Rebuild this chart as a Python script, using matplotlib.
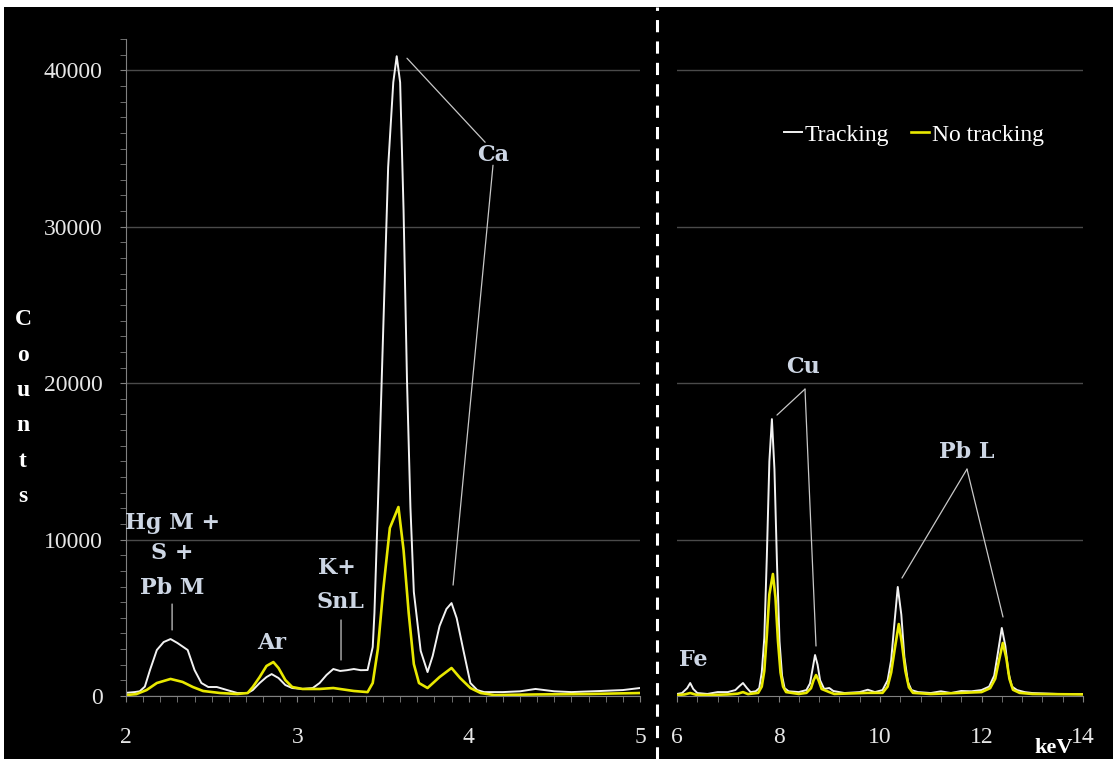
import matplotlib.pyplot as plt
from matplotlib.lines import Line2D
from matplotlib.patches import Rectangle
from matplotlib.ticker import MultipleLocator

plt.rcParams['font.family'] = ['Liberation Serif', 'DejaVu Serif']
plt.rcParams['xtick.major.pad'] = 18
plt.rcParams['xtick.minor.pad'] = 18

# Espectro 2-5 keV (com tracking)
e_esq_trk = [2.00, 2.05, 2.08, 2.11, 2.14, 2.18, 2.22, 2.26, 2.30, 2.36, 2.40, 2.44, 2.48,
             2.53, 2.59, 2.65, 2.71, 2.74, 2.78, 2.82, 2.85, 2.89, 2.93, 2.97, 3.03, 3.09,
             3.13, 3.17, 3.21, 3.25, 3.29, 3.33, 3.37, 3.41, 3.44, 3.45, 3.47, 3.50, 3.53,
             3.56, 3.58, 3.60, 3.62, 3.64, 3.66, 3.68, 3.72, 3.76, 3.79, 3.83, 3.87, 3.90,
             3.93, 3.97, 4.01, 4.05, 4.09, 4.20, 4.30, 4.39, 4.50, 4.60, 4.77, 4.90, 5.00]
c_esq_trk = [200, 250, 300, 600, 1660, 2940, 3450, 3640, 3390, 2940, 1660, 830, 575,
             575, 380, 190, 190, 380, 830, 1210, 1400, 1150, 700, 510, 450, 510,
             830, 1340, 1725, 1600, 1650, 1725, 1650, 1660, 3130, 5300, 12080, 22940, 33800,
             39230, 40900, 39230, 31050, 20190, 12080, 6650, 2880, 1530, 2560, 4470, 5560, 5940,
             4980, 2880, 830, 380, 250, 250, 300, 450, 300, 250, 320, 380, 510]

# Espectro 2-5 keV (sem tracking)
e_esq_sem = [2.00, 2.06, 2.12, 2.18, 2.26, 2.33, 2.39, 2.45, 2.55, 2.65, 2.71, 2.74, 2.78,
             2.82, 2.86, 2.89, 2.93, 2.97, 3.03, 3.13, 3.21, 3.33, 3.41, 3.44, 3.47, 3.50,
             3.54, 3.59, 3.62, 3.65, 3.68, 3.71, 3.76, 3.83, 3.90, 3.95, 4.01, 4.07, 4.15,
             4.40, 4.70, 5.00]
c_esq_sem = [60, 120, 380, 830, 1090, 900, 575, 320, 190, 130, 190, 575, 1210,
             1920, 2170, 1790, 1020, 575, 450, 450, 510, 320, 250, 830, 3000, 6650,
             10740, 12080, 9330, 5300, 2040, 830, 510, 1210, 1790, 1150, 510, 190, 60,
             100, 130, 190]

# Espectro 6-14 keV (com tracking)
e_dir_trk = [6.00, 6.10, 6.20, 6.26, 6.32, 6.40, 6.60, 6.80, 7.00, 7.15, 7.22, 7.30, 7.38,
             7.45, 7.55, 7.62, 7.67, 7.72, 7.77, 7.82, 7.87, 7.92, 7.97, 8.02, 8.07, 8.12,
             8.20, 8.40, 8.55, 8.62, 8.67, 8.72, 8.77, 8.82, 8.90, 9.00, 9.08, 9.30, 9.60,
             9.76, 9.90, 10.05, 10.15, 10.22, 10.28, 10.35, 10.42, 10.48, 10.55, 10.62, 10.75,
             11.00, 11.20, 11.40, 11.60, 11.80, 12.00, 12.15, 12.25, 12.32, 12.40, 12.47,
             12.53, 12.60, 12.70, 12.85, 13.00, 13.50, 14.00]
c_dir_trk = [130, 190, 500, 830, 450, 190, 130, 250, 250, 380, 600, 830, 500,
             250, 300, 500, 1500, 3700, 8900, 15000, 17700, 14500, 8500, 3500, 1300, 500,
             300, 250, 380, 800, 1700, 2620, 2000, 1000, 450, 510, 320, 190, 250,
             400, 250, 380, 1000, 2300, 4500, 6970, 5200, 2500, 900, 380, 250,
             190, 300, 190, 320, 300, 380, 600, 1300, 2700, 4350, 3200,
             1500, 600, 380, 250, 190, 130, 130]

# Espectro 6-14 keV (sem tracking)
e_dir_sem = [6.00, 6.15, 6.26, 6.38, 6.60, 7.00, 7.20, 7.30, 7.40, 7.60, 7.67, 7.72, 7.77,
             7.82, 7.89, 7.94, 7.99, 8.04, 8.09, 8.15, 8.40, 8.55, 8.64, 8.69, 8.74, 8.79,
             8.85, 9.00, 9.10, 9.76, 10.05, 10.15, 10.22, 10.29, 10.37, 10.43, 10.50, 10.57,
             10.65, 11.00, 11.60, 12.00, 12.17, 12.27, 12.34, 12.42, 12.49, 12.55, 12.62,
             12.75, 13.00, 14.00]
c_dir_sem = [60, 100, 190, 80, 60, 100, 150, 250, 120, 200, 600, 1600, 3900,
             6500, 7800, 6300, 3500, 1500, 600, 250, 130, 200, 500, 1000, 1340, 1000,
             450, 250, 130, 200, 200, 600, 1500, 3000, 4600, 3400, 1600, 550,
             200, 130, 200, 250, 500, 1100, 2200, 3390, 2400, 1100, 400,
             200, 130, 100]

cor_trk = '#f2f2f2'
cor_sem = '#e8e800'
cor_rot = '#cdd6e4'
cinza = '#808080'

fig = plt.figure(figsize=(11.13, 7.59), dpi=100, facecolor='white')
fig.add_artist(Rectangle((4 / 1113, 0), 1, 1 - 7 / 759, transform=fig.transFigure,
                         facecolor='black', edgecolor='none', zorder=-10))

ax1 = fig.add_axes([126 / 1113, 63 / 759, 514 / 1113, 657 / 759])
ax2 = fig.add_axes([677 / 1113, 63 / 759, 406 / 1113, 657 / 759])

# Painel esquerdo
ax1.plot(e_esq_trk, c_esq_trk, color=cor_trk, lw=1.4, label='Tracking')
ax1.plot(e_esq_sem, c_esq_sem, color=cor_sem, lw=1.9, label='No tracking')
ax1.set_xlim(2, 5)
ax1.set_xticks([2, 3, 4, 5])
ax1.xaxis.set_minor_locator(MultipleLocator(0.1))
ax1.set_yticks([0, 10000, 20000, 30000, 40000])
ax1.yaxis.set_minor_locator(MultipleLocator(1000))
ax1.spines['left'].set_color(cinza)
ax1.tick_params(axis='y', which='both', direction='out', length=4, color=cinza,
                labelsize=17, labelcolor='#e6e6e6', pad=13)

# Painel direito
l1, = ax2.plot(e_dir_trk, c_dir_trk, color=cor_trk, lw=1.4)
l2, = ax2.plot(e_dir_sem, c_dir_sem, color=cor_sem, lw=1.9)
ax2.set_xlim(6, 14)
ax2.set_xticks([6, 8, 10, 12, 14])
ax2.xaxis.set_minor_locator(MultipleLocator(0.4))
ax2.set_yticks([10000, 20000, 30000, 40000])
ax2.spines['left'].set_visible(False)
ax2.tick_params(axis='y', which='both', length=0, labelleft=False)

for ax in (ax1, ax2):
    ax.set_facecolor('black')
    ax.set_ylim(0, 42000)
    ax.grid(axis='y', color='#4a4a4a', lw=1)
    ax.set_axisbelow(True)
    for lado in ('top', 'right'):
        ax.spines[lado].set_visible(False)
    ax.spines['bottom'].set_color(cinza)
    ax.tick_params(axis='x', which='both', direction='out', length=4, color=cinza,
                   labelsize=17, labelcolor='#e6e6e6')

leg = ax2.legend([l1, l2], ['Tracking', 'No tracking'], loc='center',
                 bbox_to_anchor=(0.583, 0.854), ncol=2, frameon=False,
                 handlelength=0.8, handletextpad=0.1, columnspacing=0.9,
                 fontsize=17, labelcolor='white')

# Rótulos dos picos
rot = dict(color=cor_rot, fontsize=16, fontweight='bold', family='DejaVu Serif',
           ha='center', va='center')
linha = dict(arrowstyle='-', color='#c8c8c8', lw=0.9, shrinkA=0, shrinkB=0)

ax1.text(2.269, 11050, 'Hg M +', **rot)
ax1.text(2.269, 9140, 'S +', **rot)
ax1.text(2.269, 6900, 'Pb M', **rot)
ax1.annotate('', xy=(2.269, 4220), xytext=(2.269, 5880), arrowprops=linha)
ax1.text(2.852, 3390, 'Ar', **rot)
ax1.text(3.232, 8180, 'K+', **rot)
ax1.text(3.249, 6000, 'SnL', **rot)
ax1.annotate('', xy=(3.255, 2300), xytext=(3.255, 4860), arrowprops=linha)
ax1.text(4.142, 34570, 'Ca', **rot)
ax1.annotate('', xy=(3.640, 40770), xytext=(4.096, 35400), arrowprops=linha)
ax1.annotate('', xy=(3.909, 7090), xytext=(4.142, 33930), arrowprops=linha)

ax2.text(6.315, 2300, 'Fe', **rot)
ax2.text(8.483, 21020, 'Cu', **rot)
ax2.annotate('', xy=(7.970, 17960), xytext=(8.522, 19620), arrowprops=linha)
ax2.annotate('', xy=(8.739, 3195), xytext=(8.522, 19620), arrowprops=linha)
ax2.text(11.714, 15590, 'Pb L', **rot)
ax2.annotate('', xy=(10.433, 7540), xytext=(11.714, 14505), arrowprops=linha)
ax2.annotate('', xy=(12.424, 5050), xytext=(11.714, 14505), arrowprops=linha)

# Eixo Y vertical "Counts"
for i, letra in enumerate('Counts'):
    fig.text(23 / 1113, 1 - (320 + 35.3 * i) / 759, letra, color='white', fontsize=17,
             fontweight='bold', ha='center', va='center')

fig.text(1054 / 1113, 1 / 759, 'keV', color='white', fontsize=16,
         fontweight='bold', ha='center', va='bottom')

# Linha tracejada separando os painéis
fig.add_artist(Line2D([657 / 1113, 657 / 1113], [0, 1 - 7 / 759], transform=fig.transFigure,
                      color='white', lw=2.2, ls=(0, (4, 3))))

fig.savefig('out.png', dpi=100, facecolor=fig.get_facecolor())
